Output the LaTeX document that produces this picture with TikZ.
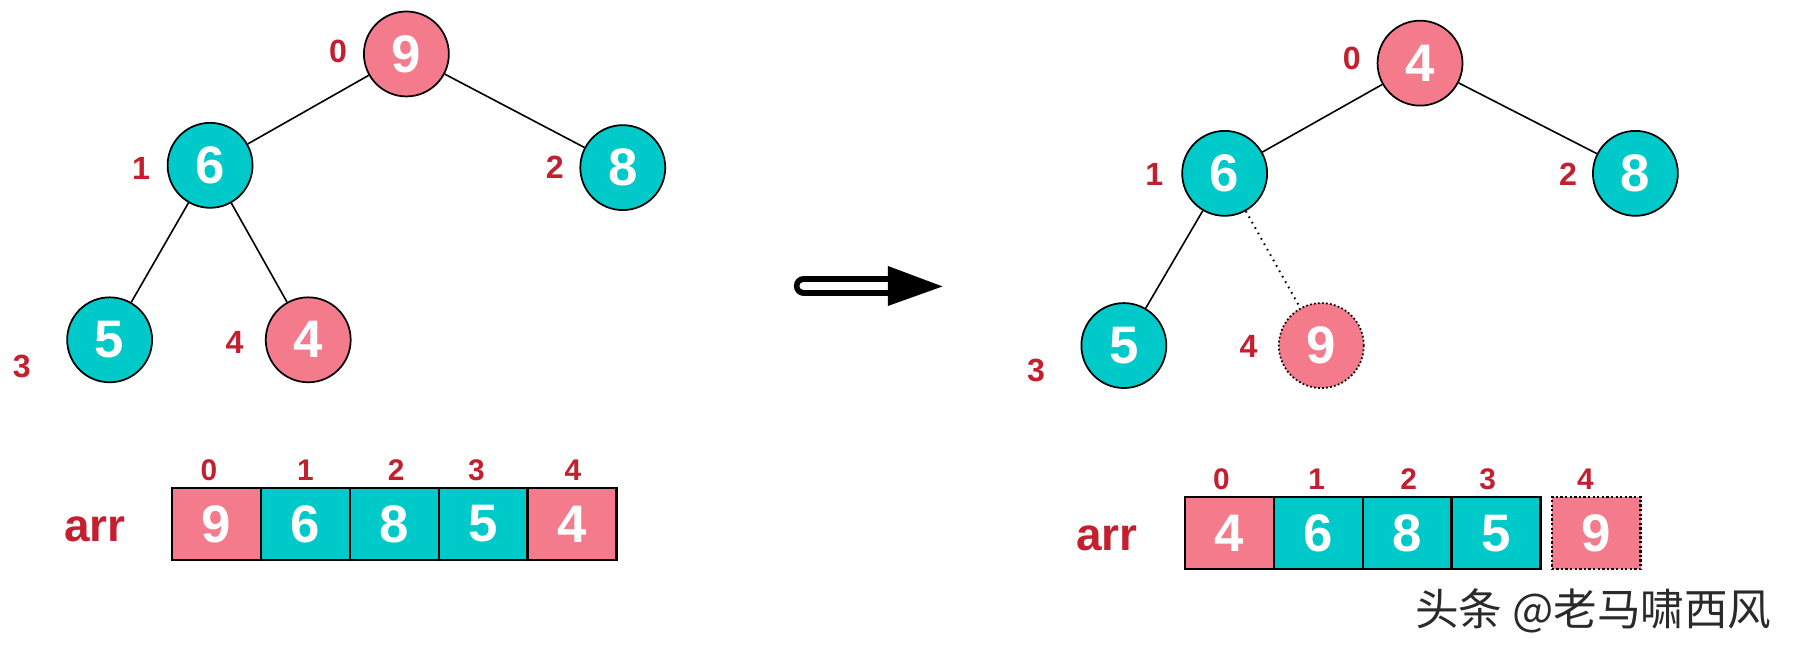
\documentclass[tikz,border=0pt]{standalone}
\usepackage{fontspec}
\setmainfont{Liberation Sans}
\newfontfamily\cjk{Noto Sans CJK SC}
\definecolor{pk}{HTML}{F47B8B}
\definecolor{tl}{HTML}{00C9C9}
\definecolor{lb}{HTML}{C21F2F}
\definecolor{wm}{HTML}{2A2A2A}
\begin{document}
\begin{tikzpicture}[x=0.5pt,y=-0.5pt,
  hn/.style={circle,draw=black,line width=0.75pt,minimum size=37pt,inner sep=0pt,text=white,font=\fontsize{23}{23}\selectfont\bfseries},
  pnode/.style={hn,fill=pk},
  tnode/.style={hn,fill=tl},
  ghost/.style={pnode,densely dotted},
  idx/.style={text=lb,font=\fontsize{14}{14}\selectfont\bfseries,inner sep=0pt},
  aidx/.style={text=lb,font=\fontsize{13}{13}\selectfont\bfseries,inner sep=0pt},
  arrlab/.style={text=lb,font=\fontsize{20}{20}\selectfont\bfseries,inner sep=0pt},
  cell/.style={rectangle,draw=black,line width=1pt,minimum width=38.7pt,minimum height=31.4pt,inner sep=0pt,outer sep=0pt,text=white,font=\fontsize{23}{23}\selectfont\bfseries},
  pcell/.style={cell,fill=pk},
  tcell/.style={cell,fill=tl},
  gcell/.style={pcell,densely dotted},
  edge/.style={draw=black,line width=0.7pt},
  gedge/.style={edge,dotted,line width=0.85pt}
]
\useasboundingbox (0,0) rectangle (1568,570);

% ---------- left tree ----------
\node[pnode] (a0) at (354,47) {9};
\node[tnode] (a1) at (183,144) {6};
\node[tnode] (a2) at (542.5,146) {8};
\node[tnode] (a3) at (95.5,296) {5};
\node[pnode] (a4) at (268.5,296) {4};
\draw[edge] (a0) -- (a1);
\draw[edge] (a0) -- (a2);
\draw[edge] (a1) -- (a3);
\draw[edge] (a1) -- (a4);
\node[idx] (ai0) at (294.5,45) {0};
\node[idx] (ai1) at (122.8,147) {1};
\node[idx] (ai2) at (483.4,146) {2};
\node[idx] (ai3) at (19,319) {3};
\node[idx] (ai4) at (204.4,298) {4};

% ---------- left array ----------
\node[arrlab] (arrL) at (82.7,461) {arr};
\node[pcell] (c0) at (188.7,456.5) {9};
\node[tcell] (c1) at (266.1,456.5) {6};
\node[tcell] (c2) at (343.5,456.5) {8};
\node[tcell] (c3) at (420.9,456.5) {5};
\node[pcell] (c4) at (498.3,456.5) {4};
\node[aidx] (ci0) at (182,409.5) {0};
\node[aidx] (ci1) at (266,409.5) {1};
\node[aidx] (ci2) at (345,409.5) {2};
\node[aidx] (ci3) at (415,409.5) {3};
\node[aidx] (ci4) at (499,409.5) {4};

% ---------- arrow ----------
\coordinate (as) at (700,249);
\coordinate (ae) at (776,249);
\draw[line width=8.5pt,line cap=round] (as) -- (ae);
\draw[white,line width=3.6pt,line cap=round] (as) -- (ae);
\fill[black] (773.5,231.7) -- (821,249.5) -- (773.5,266.5) -- cycle;

% ---------- right tree ----------
\node[pnode] (b0) at (1237,55) {4};
\node[tnode] (b1) at (1066.8,151) {6};
\node[tnode] (b2) at (1424.6,151) {8};
\node[tnode] (b3) at (979,301) {5};
\node[ghost] (b4) at (1151,301) {9};
\draw[edge] (b0) -- (b1);
\draw[edge] (b0) -- (b2);
\draw[edge] (b1) -- (b3);
\draw[gedge] (b1) -- (b4);
\node[idx] (bi0) at (1177.6,51) {0};
\node[idx] (bi1) at (1005.5,152) {1};
\node[idx] (bi2) at (1366,152) {2};
\node[idx] (bi3) at (902.6,322.7) {3};
\node[idx] (bi4) at (1087.6,302) {4};

% ---------- right array ----------
\node[arrlab] (arrR) at (964,469) {arr};
\node[pcell] (d0) at (1071,464.5) {4};
\node[tcell] (d1) at (1148.4,464.5) {6};
\node[tcell] (d2) at (1225.8,464.5) {8};
\node[tcell] (d3) at (1303.2,464.5) {5};
\node[gcell] (d4) at (1390.4,464.5) {9};
\node[aidx] (di0) at (1064,417.5) {0};
\node[aidx] (di1) at (1147,417.5) {1};
\node[aidx] (di2) at (1227,417.5) {2};
\node[aidx] (di3) at (1296,417.5) {3};
\node[aidx] (di4) at (1381,417.5) {4};

% ---------- watermark ----------
\node[text=wm,inner sep=0pt,font=\cjk\fontsize{19}{19}\selectfont] (wmk) at (1388,532) {头条 @老马啸西风};
\end{tikzpicture}
\end{document}
